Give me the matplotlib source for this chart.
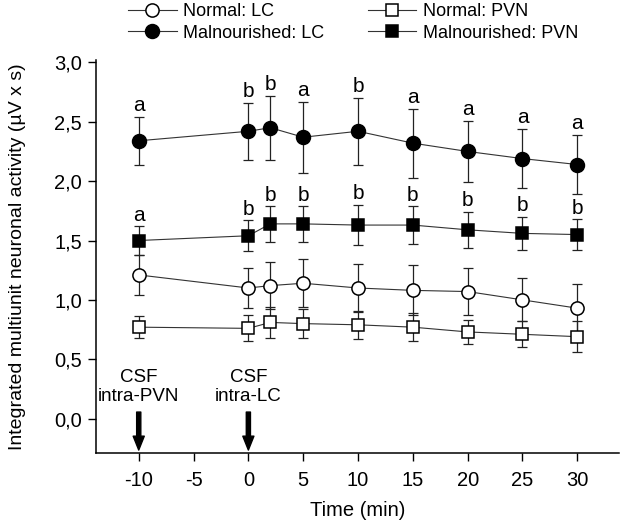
import matplotlib
matplotlib.use('Agg')
import matplotlib.pyplot as plt
from matplotlib.ticker import FuncFormatter

plt.rcParams['font.family'] = ['Liberation Sans', 'DejaVu Sans']

time_min = [-10, 0, 2, 5, 10, 15, 20, 25, 30]

mal_lc = [2.34, 2.42, 2.45, 2.37, 2.42, 2.32, 2.25, 2.19, 2.14]
mal_lc_err = [0.20, 0.24, 0.27, 0.30, 0.28, 0.29, 0.26, 0.25, 0.25]
mal_lc_sig = ['a', 'b', 'b', 'a', 'b', 'a', 'a', 'a', 'a']

mal_pvn = [1.50, 1.54, 1.64, 1.64, 1.63, 1.63, 1.59, 1.56, 1.55]
mal_pvn_err = [0.12, 0.13, 0.15, 0.15, 0.17, 0.16, 0.15, 0.14, 0.13]
mal_pvn_sig = ['a', 'b', 'b', 'b', 'b', 'b', 'b', 'b', 'b']

norm_lc = [1.21, 1.10, 1.12, 1.14, 1.10, 1.08, 1.07, 1.00, 0.93]
norm_lc_err = [0.17, 0.17, 0.20, 0.20, 0.20, 0.21, 0.20, 0.18, 0.20]

norm_pvn = [0.77, 0.76, 0.81, 0.80, 0.79, 0.77, 0.73, 0.71, 0.69]
norm_pvn_err = [0.09, 0.11, 0.13, 0.12, 0.12, 0.12, 0.10, 0.11, 0.13]

injections = [(-10, 'CSF\nintra-PVN'), (0, 'CSF\nintra-LC')]


def draw_series(ax, y, err, marker, face, size, label):
    ax.errorbar(time_min, y, yerr=err, fmt='none', ecolor='#222222',
                elinewidth=0.9, capsize=3.8, capthick=0.9, zorder=2)
    line, = ax.plot(time_min, y, color='#333333', linewidth=0.8, marker=marker,
                    markersize=size, markerfacecolor=face, markeredgecolor='black',
                    markeredgewidth=1.1, label=label, zorder=3)
    return line


fig = plt.figure(figsize=(6.2, 5.23), dpi=100)
ax = fig.add_axes([0.1548, 0.1338, 0.8435, 0.7514])

h1 = draw_series(ax, norm_lc, norm_lc_err, 'o', 'white', 9.5, 'Normal: LC')
h2 = draw_series(ax, mal_lc, mal_lc_err, 'o', 'black', 10, 'Malnourished: LC')
h3 = draw_series(ax, norm_pvn, norm_pvn_err, 's', 'white', 8, 'Normal: PVN')
h4 = draw_series(ax, mal_pvn, mal_pvn_err, 's', 'black', 8, 'Malnourished: PVN')

# significance letters above the upper error bar
for y, err, sig in [(mal_lc, mal_lc_err, mal_lc_sig), (mal_pvn, mal_pvn_err, mal_pvn_sig)]:
    for xi, yi, ei, s in zip(time_min, y, err, sig):
        ax.annotate(s, xy=(xi, yi + ei), xytext=(0, 4), textcoords='offset points',
                    ha='center', va='baseline', fontsize=15)

for xi, txt in injections:
    ax.annotate('', xy=(xi, -0.265), xytext=(xi, 0.055),
                arrowprops=dict(facecolor='black', edgecolor='black',
                                width=3, headwidth=8, headlength=10))
    ax.text(xi, 0.27, txt, ha='center', va='center', fontsize=13.5, linespacing=1.15)

ax.set_xlim(-13.9, 33.8)
ax.set_ylim(-0.29, 3.02)
ax.set_xticks(range(-10, 31, 5))
ax.set_yticks([0, 0.5, 1.0, 1.5, 2.0, 2.5, 3.0])
ax.yaxis.set_major_formatter(FuncFormatter(lambda v, p: f'{v:.1f}'.replace('.', ',')))
ax.xaxis.set_major_formatter(FuncFormatter(lambda v, p: f'{int(v)}'))
ax.tick_params(direction='out', length=6, width=1, labelsize=14.5, pad=4)
ax.tick_params(axis='x', pad=7)
ax.spines['top'].set_visible(False)
ax.spines['right'].set_visible(False)
ax.spines['left'].set_linewidth(1.1)
ax.spines['bottom'].set_linewidth(1.1)

ax.set_xlabel('Time (min)', fontsize=14.5, labelpad=8)
ax.set_ylabel('Integrated multiunit neuronal activity (µV x s)', fontsize=14, labelpad=20)

fig.legend(handles=[h1, h2, h3, h4], ncol=2, loc='upper left',
           bbox_to_anchor=(128 / 620, 1 - 3 / 523), frameon=False, fontsize=13,
           handlelength=2.7, handletextpad=0.35, columnspacing=2.4,
           labelspacing=0.25, borderpad=0, borderaxespad=0)

fig.savefig('out.png', dpi=100)
